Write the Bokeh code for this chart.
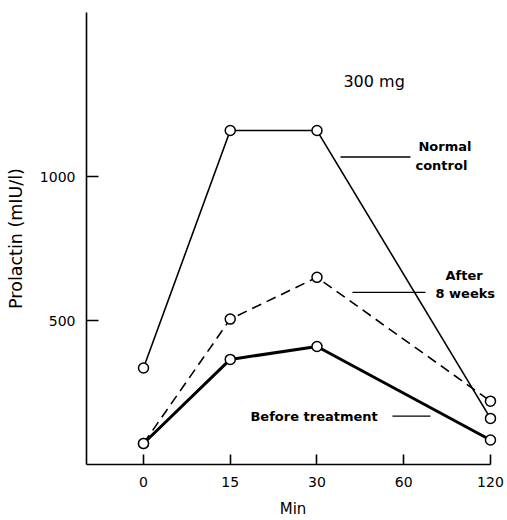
from bokeh.plotting import figure
from bokeh.models import Range1d, FixedTicker, Label
from bokeh.embed import file_html
from bokeh.resources import INLINE

# Sampling times (minutes) shown on the x axis; 60 has a tick but no samples
tick_minutes = [0, 15, 30, 60, 120]
tick_labels = ["0", "15", "30", "60", "120"]
sample_minutes = [0, 15, 30, 120]

# Prolactin (mIU/l) after 300 mg
normal_control = [335, 1160, 1160, 160]
after_8_weeks = [73, 505, 650, 220]
before_treatment = [73, 365, 410, 85]

y_ticks = [500, 1000]

FONT = "DejaVu Sans"

# x axis is evenly spaced by sample slot, not proportional to time
xs = [tick_minutes.index(m) for m in sample_minutes]
tick_pos = list(range(len(tick_minutes)))

p = figure(width=507, height=520, output_backend="svg", toolbar_location=None,
           x_range=Range1d(-0.657, 4.104), y_range=Range1d(0, 1570),
           min_border_left=86, min_border_right=8, min_border_top=12,
           min_border_bottom=51)
p.outline_line_color = None
p.grid.visible = False
p.background_fill_color = "white"
p.border_fill_color = "white"

# axes
p.xaxis.ticker = FixedTicker(ticks=tick_pos)
p.xaxis.major_label_overrides = {i: t for i, t in zip(tick_pos, tick_labels)}
p.xaxis.bounds = (-0.657, 4)
p.xaxis.axis_label = "Min"
p.yaxis.ticker = FixedTicker(ticks=y_ticks)
p.yaxis.axis_label = "Prolactin (mIU/l)"

for ax in (p.xaxis, p.yaxis):
    ax.axis_line_color = "black"
    ax.axis_line_width = 1.6
    ax.major_tick_line_color = "black"
    ax.major_tick_line_width = 1.6
    ax.major_tick_out = 0
    ax.minor_tick_line_color = None
    ax.major_label_text_font = FONT
    ax.major_label_text_font_size = "14px"
    ax.major_label_text_color = "black"
    ax.axis_label_text_font = FONT
    ax.axis_label_text_font_style = "normal"
    ax.axis_label_text_color = "black"

p.xaxis.major_tick_in = 10
p.yaxis.major_tick_in = 12
p.xaxis.major_label_standoff = 12
p.yaxis.major_label_standoff = 11
p.xaxis.axis_label_text_font_size = "15px"
p.yaxis.axis_label_text_font_size = "17.5px"
p.xaxis.axis_label_standoff = 10
p.yaxis.axis_label_standoff = 11
p.yaxis.major_label_orientation = "horizontal"

# series
p.line(xs, normal_control, line_color="black", line_width=1.6)
p.line(xs, after_8_weeks, line_color="black", line_width=1.6, line_dash="10 6")
p.line(xs, before_treatment, line_color="black", line_width=3)
for series in (normal_control, after_8_weeks, before_treatment):
    p.scatter(xs, series, marker="circle", size=10, fill_color="white",
              line_color="black", line_width=1.5)

# dose title
p.add_layout(Label(x=2.305, y=1330, text="300 mg", text_font=FONT,
                   text_font_size="16px", text_baseline="middle",
                   text_color="black"))

# series annotations with key lines
def note(x, y, text):
    p.add_layout(Label(x=x, y=y, text=text, text_font=FONT,
                       text_font_size="13px", text_font_style="bold",
                       text_baseline="middle", text_color="black"))

note(3.170, 1103, "Normal")
note(3.135, 1037, "control")
p.segment(x0=2.271, y0=1068, x1=3.078, y1=1068, line_color="black", line_width=1.4)

note(3.481, 656, "After")
note(3.366, 594, "8 weeks")
p.segment(x0=2.409, y0=598, x1=3.251, y1=598, line_color="black", line_width=1.4)

note(1.233, 168, "Before treatment")
p.segment(x0=2.870, y0=168, x1=3.308, y1=168, line_color="black", line_width=1.2)

open("out.html", "w").write(file_html(p, INLINE))
